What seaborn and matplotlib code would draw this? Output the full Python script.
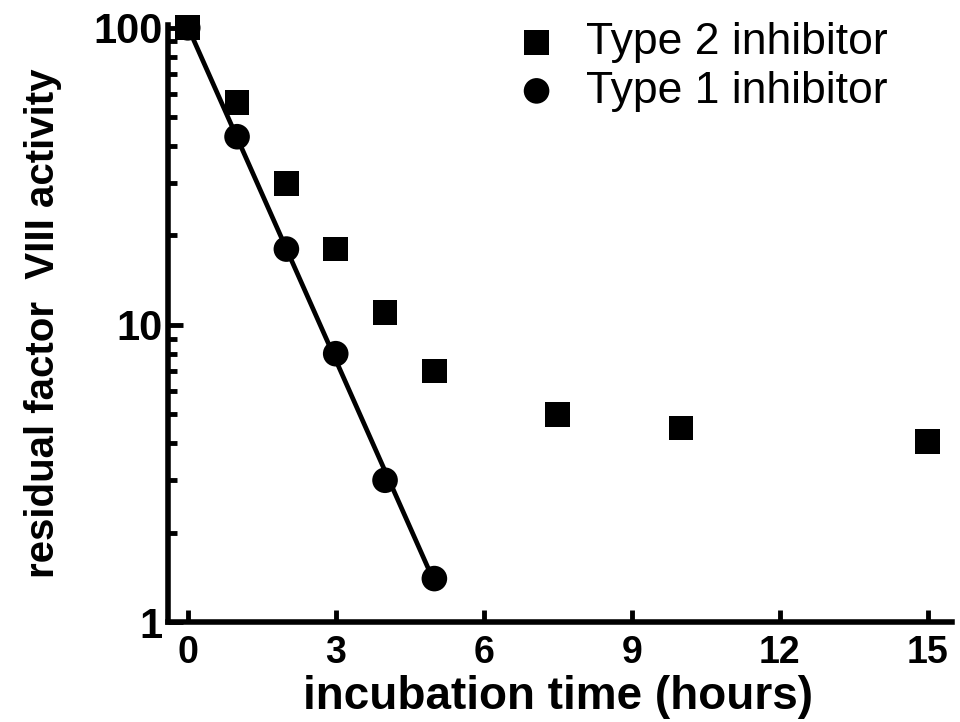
import numpy as np
import pandas as pd
import matplotlib
matplotlib.use("Agg")
import matplotlib.pyplot as plt
import seaborn as sns
from matplotlib.ticker import LogLocator, NullFormatter, FixedLocator, FixedFormatter

# Data
type2_hours = [0, 1, 2, 3, 4, 5, 7.5, 10, 15]
type2_activity = [100, 56, 30, 18, 11, 7, 5.0, 4.5, 4.05]
type1_hours = [0, 1, 2, 3, 4, 5]
type1_activity = [100, 43, 18, 8.0, 3.0, 1.4]
x_ticks = [0, 3, 6, 9, 12, 15]
y_ticks = [1, 10, 100]
y_tick_labels = ["1", "10", "100"]

sns.set_style("ticks")
plt.rcParams['font.family'] = ['Liberation Sans', 'DejaVu Sans']
for k in ["text.color", "axes.labelcolor", "xtick.color", "ytick.color",
          "axes.edgecolor"]:
    plt.rcParams[k] = "black"

fig = plt.figure(figsize=(9.6, 7.22), dpi=100)
ax = fig.add_axes([0.175, 0.1385, 0.817, 0.8265])

df2 = pd.DataFrame({"hours": type2_hours, "activity": type2_activity})
df1 = pd.DataFrame({"hours": type1_hours, "activity": type1_activity})

# log-linear fit line for type 1
coef = np.polyfit(type1_hours, np.log10(type1_activity), 1)
fit_x = np.array([type1_hours[0], type1_hours[-1]])
fit_df = pd.DataFrame({"hours": fit_x, "activity": 10 ** np.polyval(coef, fit_x)})

ax.set_yscale("log")
sns.lineplot(data=fit_df, x="hours", y="activity", ax=ax, color="black",
             linewidth=3.4, legend=False, zorder=2)
sns.scatterplot(data=df2, x="hours", y="activity", ax=ax, marker="s", s=320,
                color="black", edgecolor="none", label="Type 2 inhibitor",
                zorder=3, clip_on=False)
sns.scatterplot(data=df1, x="hours", y="activity", ax=ax, marker="o", s=340,
                color="black", edgecolor="none", label="Type 1 inhibitor",
                zorder=3, clip_on=False)

ax.set_xlim(-0.4, 15.5)
ax.set_ylim(1, 102)

for side in ["top", "right"]:
    ax.spines[side].set_visible(False)
for side in ["left", "bottom"]:
    ax.spines[side].set_linewidth(4)
    ax.spines[side].set_color("black")

ax.xaxis.set_major_locator(FixedLocator(x_ticks))
ax.set_xticklabels([str(t) for t in x_ticks])
ax.yaxis.set_major_locator(FixedLocator(y_ticks))
ax.yaxis.set_major_formatter(FixedFormatter(y_tick_labels))
ax.yaxis.set_minor_locator(LogLocator(base=10, subs=np.arange(2, 10), numticks=10))
ax.yaxis.set_minor_formatter(NullFormatter())

ax.tick_params(axis="x", which="major", direction="in", length=9, width=3.5,
               labelsize=27, pad=9.5, color="black", labelcolor="black")
ax.tick_params(axis="y", which="major", direction="in", length=11, width=3.5,
               labelsize=30, pad=4, color="black", labelcolor="black")
ax.tick_params(axis="y", which="minor", direction="in", length=6.5, width=3.5,
               color="black")
for lab in ax.get_xticklabels() + ax.get_yticklabels():
    lab.set_fontweight("bold")

ax.set_xlabel("incubation time (hours)", fontsize=33, fontweight="bold")
ax.set_ylabel("residual factor  VIII activity", fontsize=29, fontweight="bold")
ax.xaxis.set_label_coords(0.497, -0.088)
ax.yaxis.set_label_coords(-0.135, 0.5)

leg = ax.legend(loc="upper left", bbox_to_anchor=(515 / 960, 1 - 22 / 722),
                bbox_transform=fig.transFigure, frameon=False,
                fontsize=32, handlelength=0.97, handletextpad=0.62,
                labelspacing=0.17, markerscale=1.0, borderaxespad=0,
                borderpad=0)

fig.savefig("out.png", dpi=100)
